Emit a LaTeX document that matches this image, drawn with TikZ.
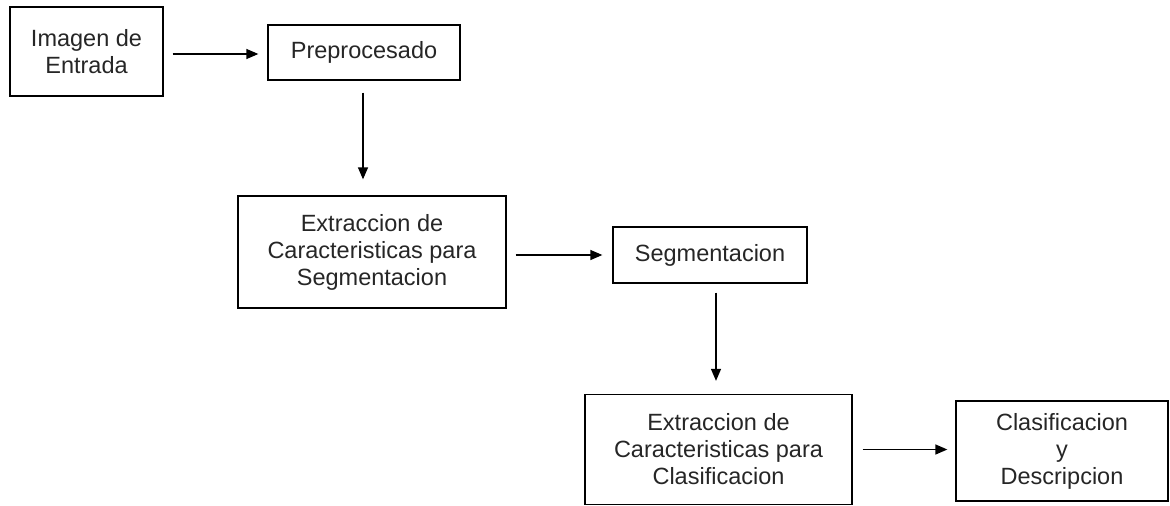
\documentclass[tikz,border=0pt]{standalone}
\usepackage{fontspec}
\setmainfont{Liberation Sans}
\usetikzlibrary{arrows.meta,calc}
\tikzset{
  blk/.style={draw=black, line width=1.3pt, fill=white, align=center, inner sep=0pt,
    font=\fontsize{23.5}{27}\selectfont, text=black!85},
  conn/.style={line width=1.3pt, -{Triangle[length=12pt,width=10pt]}}
}
\begin{document}
\begin{tikzpicture}[x=1pt,y=-1pt]
\useasboundingbox (0,0) rectangle (1170,506);
\node[blk, minimum width=153pt, minimum height=89pt] (b1) at (86.5,51.5) {Imagen de\\Entrada};
\node[blk, minimum width=192pt, minimum height=55pt] (b2) at (364,52.5) {Preprocesado};
\node[blk, minimum width=268pt, minimum height=112pt] (b3) at (372,252) {Extraccion de\\Caracteristicas para\\Segmentacion};
\node[blk, minimum width=194pt, minimum height=56pt] (b4) at (710,255) {Segmentacion};
\node[blk, minimum width=267pt, minimum height=110pt] (b5) at (718.5,449.5) {Extraccion de\\Caracteristicas para\\Clasificacion};
\node[blk, minimum width=212pt, minimum height=100pt] (b6) at (1062,451) {Clasificacion\\y\\Descripcion};
\draw[conn, shorten <=9pt, shorten >=9pt] ($(b1.east)+(0,2.5)$) -- ($(b2.west)+(0,1.5)$);
\draw[conn, shorten <=12pt, shorten >=16pt] ($(b2.south)+(-1,0)$) -- ($(b2.south |- b3.north)+(-1,0)$);
\draw[conn, shorten <=9pt, shorten >=10pt] ($(b3.east)+(0,3)$) -- (b4.west);
\draw[conn, shorten <=9pt, shorten >=13pt] ($(b4.south)+(6,0)$) -- ($(b4.south |- b5.north)+(6,0)$);
\draw[conn, shorten <=10pt, shorten >=8pt] (b5.east) -- ($(b6.west)+(0,-1.5)$);
\end{tikzpicture}
\end{document}
